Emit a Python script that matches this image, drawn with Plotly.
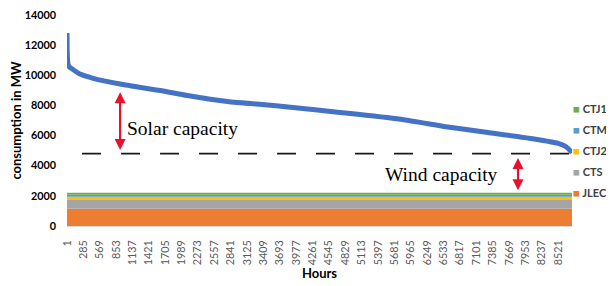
import plotly.graph_objects as go

# ---- data ----
hours = [1, 4, 10, 18, 40, 88, 227, 453, 922, 1618, 2087, 2783, 3582, 4347,
         5043, 5842, 6607, 7303, 8102, 8519, 8658, 8745, 8760]
consumption = [12800, 11700, 11100, 10760, 10560, 10430, 10080, 9800, 9420, 8990,
               8660, 8260, 8000, 7690, 7410, 7050, 6570, 6200, 5770, 5480, 5260,
               4930, 4850]

span_hours = [1, 8760]
plants = ["JLEC", "CTS", "CTJ2", "CTM", "CTJ1"]
plant_mw = [1140, 590, 210, 130, 130]
plant_colors = ["#ED7D31", "#A5A5A5", "#FFC000", "#5B9BD5", "#70AD47"]

capacity_line_hours = [262, 8760]
capacity_level = 4800

solar_arrow_hour = 922
solar_arrow_range = [8880, 4950]
wind_arrow_hour = 7824
wind_arrow_range = [4510, 2275]

tick_hours = [1, 285, 569, 853, 1137, 1421, 1705, 1989, 2273, 2557, 2841, 3125,
              3409, 3693, 3977, 4261, 4545, 4829, 5113, 5397, 5681, 5965, 6249,
              6533, 6817, 7101, 7385, 7669, 7953, 8237, 8521]
y_ticks = [0, 2000, 4000, 6000, 8000, 10000, 12000, 14000]

fig = go.Figure()

# stacked areas
for name, mw, col in zip(plants, plant_mw, plant_colors):
    fig.add_trace(go.Scatter(
        x=span_hours, y=[mw] * len(span_hours), stackgroup="plants",
        mode="lines", line=dict(width=0, color=col), fillcolor=col,
        name=name, showlegend=False, hoverinfo="skip"))

# load duration curve
fig.add_trace(go.Scatter(x=hours, y=consumption, mode="lines",
                         line=dict(color="#4472C4", width=5, shape="spline", smoothing=0.6),
                         showlegend=False, name="consumption"))

# dashed capacity line
fig.add_trace(go.Scatter(x=capacity_line_hours, y=[capacity_level] * 2, mode="lines",
                         line=dict(color="#1a1a1a", width=1.6, dash="19px,20px"),
                         showlegend=False, hoverinfo="skip"))

# legend entries (square glyph inside text)
for i, (name, col) in enumerate(reversed(list(zip(plants, plant_colors)))):
    fig.add_trace(go.Scatter(
        x=[None], y=[None], mode="lines", line=dict(width=0, color=col),
        name=f"<span style='color:{col};font-size:11.5px'>■</span> {name}",
        legendgroup=f"g{i}", showlegend=True))

# arrows
for xh, (y0, y1) in [(solar_arrow_hour, solar_arrow_range), (wind_arrow_hour, wind_arrow_range)]:
    fig.add_annotation(x=xh, y=y0, ax=xh, ay=y1, axref="x", ayref="y",
                       text="", showarrow=True, arrowhead=2, startarrowhead=2,
                       arrowside="end+start", arrowsize=1, startarrowsize=1,
                       arrowwidth=2.2, arrowcolor="#E8112D")

fig.add_annotation(x=2000, y=6463, text="Solar capacity", showarrow=False,
                   font=dict(family="Liberation Serif", size=19.5, color="#000000"))
fig.add_annotation(x=6503, y=3440, text="Wind capacity", showarrow=False,
                   font=dict(family="Liberation Serif", size=19.5, color="#000000"))

fig.update_layout(
    width=614, height=286,
    margin=dict(l=59, r=50, t=7, b=68),
    paper_bgcolor="white", plot_bgcolor="white",
    font=dict(family="Lato", color="#000000"),
    legend=dict(x=0.9228, xref="paper", y=0.358, yanchor="middle",
                xanchor="left", traceorder="grouped", tracegroupgap=2,
                bgcolor="rgba(0,0,0,0)",
                font=dict(family="Lato", size=11, color="#404040", weight="bold")),
    xaxis=dict(range=[1, 8760], tickmode="array", tickvals=tick_hours,
               ticktext=[str(t) for t in tick_hours], tickangle=-90,
               tickfont=dict(family="Lato", size=10.8, color="#595959"),
               showgrid=False, zeroline=False, showline=True, linecolor="#D9D9D9",
               ticks="", ticklabelstandoff=9, automargin=False,
               title=dict(text="<b>Hours</b>", font=dict(family="Lato", size=13, color="#000000"),
                          standoff=4)),
    yaxis=dict(range=[0, 14000], tickmode="array", tickvals=y_ticks,
               ticktext=[str(v) for v in y_ticks], ticklabeloverflow="allow",
               tickfont=dict(family="Lato", size=10.8, color="#000000", weight="bold"),
               showgrid=False, zeroline=False, showline=False, ticks="",
               ticklabelstandoff=10, automargin=False,
               title=dict(text="<b>consumption in MW</b>",
                          font=dict(family="Lato", size=13, color="#000000"), standoff=8)),
)

fig.write_html("out.html")
